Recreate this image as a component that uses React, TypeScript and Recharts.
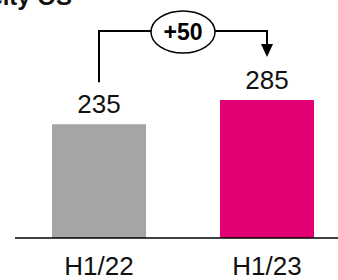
import React from 'react';
import { BarChart, Bar, XAxis, YAxis, Cell, LabelList } from 'recharts';

const categories = ['H1/22', 'H1/23'];
const values = [235, 285];
const barColors = ['#a5a5a5', '#e20074'];
const titleText = 'Capacity OS';

const data = categories.map((c, i) => ({ name: c, value: values[i] }));
const deltaText = `+${values[1] - values[0]}`;

const FONT = '"Liberation Sans", Arial, sans-serif';

export default function App() {
  const store: Record<number, { cx: number; top: number }> = {};

  const renderLabel = (props: any) => {
    const vb = props.viewBox && props.viewBox.x != null ? props.viewBox : props;
    const x = Number(vb.x);
    const y = Number(vb.y);
    const width = Number(vb.width);
    const index = props.index;
    const value = props.value;
    const cx = x + width / 2;
    store[index] = { cx, top: y };
    let bracket: React.ReactNode = null;
    if (index === 1 && store[0]) {
      const a = store[0];
      const b = { cx, top: y };
      const lineY = Math.min(a.top, b.top) - 69;
      const mx = (a.cx + b.cx) / 2;
      const rx = 32;
      const ry = 21;
      bracket = (
        <g>
          <path
            d={`M${a.cx},${a.top - 42} V${lineY} H${mx - rx}`}
            fill="none"
            stroke="#000"
            strokeWidth={2}
          />
          <path
            d={`M${mx + rx},${lineY} H${b.cx} V${b.top - 55}`}
            fill="none"
            stroke="#000"
            strokeWidth={2}
          />
          <polygon
            points={`${b.cx - 6},${b.top - 56} ${b.cx + 6},${b.top - 56} ${b.cx},${b.top - 43}`}
            fill="#000"
          />
          <ellipse cx={mx} cy={lineY + 1} rx={rx} ry={ry} fill="#fff" stroke="#000" strokeWidth={1.5} />
          <text
            x={mx}
            y={lineY + 9}
            textAnchor="middle"
            fontSize={23}
            fontWeight="bold"
            fontFamily={FONT}
            fill="#000"
          >
            {deltaText}
          </text>
        </g>
      );
    }
    return (
      <g>
        <text x={cx} y={y - 11} textAnchor="middle" fontSize={26} fontFamily={FONT} fill="#111">
          {value}
        </text>
        {bracket}
      </g>
    );
  };

  return (
    <div style={{ position: 'relative', width: 338, height: 280, overflow: 'hidden', background: '#fff' }}>
      <style>{`body{margin:0}`}</style>
      <div
        style={{
          position: 'absolute',
          right: 338 - 72,
          top: -15,
          whiteSpace: 'nowrap',
          fontFamily: FONT,
          fontWeight: 'bold',
          fontSize: 24,
          lineHeight: '24px',
          color: '#111',
        }}
      >
        {titleText}
      </div>
      <BarChart
        width={351}
        height={280}
        data={data}
        margin={{ top: 100, right: 0, bottom: 0, left: 15 }}
      >
        <XAxis
          dataKey="name"
          height={42}
          tickLine={false}
          tickSize={0}
          tickMargin={19}
          axisLine={{ stroke: '#000', strokeWidth: 1.5 }}
          tick={{ fontSize: 26, fontFamily: FONT, fill: '#111' }}
        />
        <YAxis hide domain={[0, 285]} />
        <Bar dataKey="value" barSize={94} isAnimationActive={false}>
          {data.map((d, i) => (
            <Cell key={d.name} fill={barColors[i]} />
          ))}
          <LabelList dataKey="value" content={renderLabel} />
        </Bar>
      </BarChart>
    </div>
  );
}
